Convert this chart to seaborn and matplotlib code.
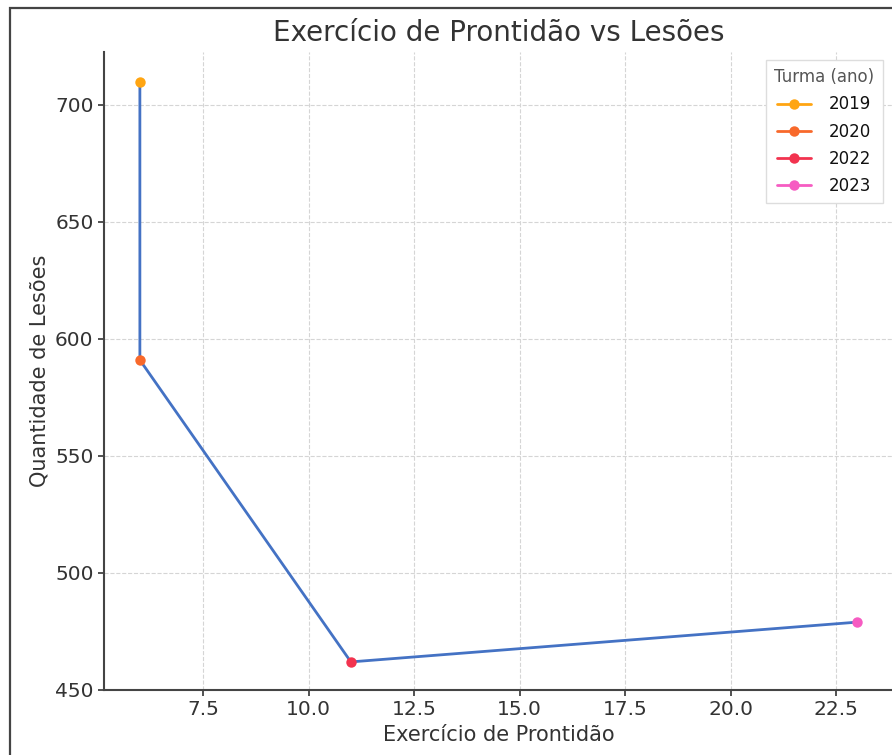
import pandas as pd
import matplotlib.pyplot as plt
import matplotlib.patches as mpatches
import seaborn as sns

# --- DATA ---
anos = ["2019", "2020", "2022", "2023"]
exercicio = [6, 6, 11, 23]
lesoes = [710, 591, 462, 479]
cores = ["#FFA512", "#F8692B", "#F2334F", "#F65CC2"]

df = pd.DataFrame({"ano": anos, "exercicio": exercicio, "lesoes": lesoes})

sns.set_theme(style="whitegrid")
plt.rcParams["font.family"] = ["DejaVu Sans"]
plt.rcParams["grid.linestyle"] = "--"
plt.rcParams["grid.color"] = "#d5d5d5"
plt.rcParams["grid.linewidth"] = 0.8

fig = plt.figure(figsize=(8.92, 7.55), dpi=100)
ax = fig.add_axes([0.1166, 0.0861, 0.8847, 0.845])

# frame around the figure (screenshot border)
fig.patches.append(mpatches.Rectangle((0.011, -0.01), 1.05, 0.9995, transform=fig.transFigure,
                                      fill=False, edgecolor="#444444", linewidth=1.6))

# connecting line in year order
sns.lineplot(data=df, x="exercicio", y="lesoes", sort=False, estimator=None,
             color="#4472C4", linewidth=2, ax=ax, legend=False)
# points coloured by class year
sns.lineplot(data=df, x="exercicio", y="lesoes", hue="ano", palette=cores,
             marker="o", markersize=7.5, markeredgewidth=0, linewidth=2,
             estimator=None, ax=ax)

ax.set_title("Exercício de Prontidão vs Lesões", fontsize=20, color="#333333", pad=8)
ax.set_xlabel("Exercício de Prontidão", fontsize=15, color="#333333", labelpad=4)
ax.set_ylabel("Quantidade de Lesões", fontsize=15, color="#333333", labelpad=4)
ax.set_xticks([7.5, 10, 12.5, 15, 17.5, 20, 22.5])
ax.set_yticks([450, 500, 550, 600, 650, 700])
ax.tick_params(axis="both", labelsize=14.5, colors="#333333", length=4, width=1.2,
               left=True, bottom=True)
ax.set_ylim(450, 722.6)
ax.set_xlim(5.15, 23.85)

for s in ["top", "right"]:
    ax.spines[s].set_visible(False)
for s in ["left", "bottom"]:
    ax.spines[s].set_color("#444444")
    ax.spines[s].set_linewidth(1.5)

leg = ax.legend(title="Turma (ano)", loc="upper right", bbox_to_anchor=(0.987, 0.9875),
                borderaxespad=0, fontsize=12, title_fontsize=12, frameon=True,
                fancybox=False, edgecolor="#dddddd", framealpha=1, labelspacing=0.55,
                handlelength=2.0, handletextpad=1.1, borderpad=0.5)
leg.get_title().set_color("#555555")
for t in leg.get_texts():
    t.set_color("#111111")

fig.savefig("out.png", dpi=100)
